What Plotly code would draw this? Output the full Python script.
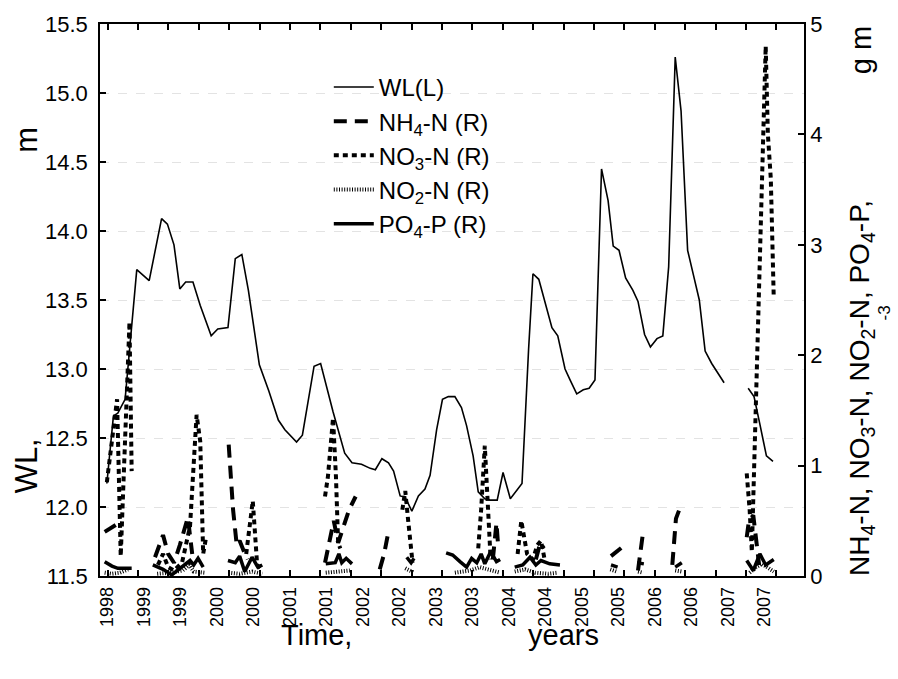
import plotly.graph_objects as go

# ---- Water level, left axis (m); None marks a break in the record ----
wl_time = [1998.39, 1998.48, 1998.54, 1998.64, 1998.80, 1998.97, 1999.14, 1999.22, 1999.31, 1999.39,
           1999.47, 1999.57, 1999.67, 1999.82, 1999.91, 2000.05, 2000.15, 2000.24, 2000.33, 2000.48,
           2000.61, 2000.74, 2000.83, 2000.99, 2001.07, 2001.23, 2001.32, 2001.49, 2001.65, 2001.75,
           2001.88, 2002.00, 2002.07, 2002.16, 2002.25, 2002.32, 2002.41, 2002.48, 2002.57, 2002.66,
           2002.75, 2002.82, 2002.91, 2002.99, 2003.07, 2003.16, 2003.25, 2003.32, 2003.41, 2003.48,
           2003.57, 2003.64, 2003.74, 2003.82, 2003.92, 2004.08, 2004.17, 2004.23, 2004.31, 2004.41,
           2004.49, 2004.57, 2004.67, 2004.74, 2004.83, 2004.92, 2005.00, 2005.08, 2005.17, 2005.26,
           2005.33, 2005.41, 2005.50, 2005.60, 2005.67, 2005.76, 2005.84, 2005.93, 2006.01, 2006.09,
           2006.18, 2006.26, 2006.35, 2006.43, 2006.51, 2006.59, 2006.68, 2006.85, None,
           2007.18, 2007.26, 2007.34, 2007.43, 2007.52]
wl_level = [12.17, 12.66, 12.68, 12.78, 13.72, 13.64, 14.09, 14.05, 13.90, 13.58,
            13.63, 13.63, 13.46, 13.24, 13.29, 13.30, 13.80, 13.83, 13.57, 13.03,
            12.84, 12.63, 12.56, 12.47, 12.52, 13.02, 13.04, 12.69, 12.39, 12.32,
            12.31, 12.28, 12.27, 12.35, 12.32, 12.26, 12.08, 12.07, 11.97, 12.08,
            12.13, 12.23, 12.56, 12.78, 12.80, 12.80, 12.72, 12.59, 12.37, 12.11,
            12.06, 12.05, 12.05, 12.25, 12.06, 12.17, 13.14, 13.69, 13.65, 13.46,
            13.30, 13.24, 13.00, 12.92, 12.82, 12.85, 12.86, 12.92, 14.45, 14.22,
            13.89, 13.86, 13.66, 13.57, 13.49, 13.25, 13.16, 13.22, 13.24, 13.74,
            15.26, 14.87, 13.86, 13.68, 13.50, 13.13, 13.04, 12.90, None,
            12.86, 12.80, 12.60, 12.37, 12.33]

# ---- Nutrients, right axis (g m-3) ----
nh4_time = [1998.36, 1998.45, 1998.53, None,
            1999.05, 1999.16, 1999.23, 1999.31, 1999.39, 1999.50, 1999.56, None,
            2000.06, 2000.12, 2000.17, 2000.21, 2000.27, 2000.32, None,
            2001.38, 2001.45, 2001.50, 2001.56, 2001.63, 2001.71, 2001.80, None,
            2002.13, 2002.19, 2002.24, None,
            2003.68, 2003.73, 2003.75, None,
            2004.27, 2004.33, 2004.38, None,
            2005.30, 2005.38, 2005.47, None,
            2005.67, 2005.71, 2005.74, None,
            2006.14, 2006.19, 2006.27, None,
            2007.16, 2007.19, 2007.25, 2007.29, 2007.33]
nh4_conc = [0.40, 0.44, 0.47, None,
            0.17, 0.37, 0.20, 0.12, 0.28, 0.53, 0.20, None,
            1.19, 0.60, 0.28, 0.32, 0.22, 0.15, None,
            0.12, 0.32, 0.50, 0.30, 0.45, 0.60, 0.72, None,
            0.06, 0.20, 0.37, None,
            0.15, 0.48, 0.30, None,
            0.15, 0.30, 0.25, None,
            0.18, 0.22, 0.27, None,
            0.05, 0.25, 0.40, None,
            0.10, 0.52, 0.66, None,
            0.35, 0.50, 0.55, 0.30, 0.10]

no3_time = [1998.39, 1998.53, 1998.58, 1998.70, 1998.73, None,
            1999.09, 1999.16, 1999.23, 1999.31, 1999.42, 1999.53, 1999.62, 1999.67, 1999.71, 1999.75, None,
            2000.30, 2000.39, 2000.45, 2000.52, None,
            2001.38, 2001.42, 2001.49, 2001.53, 2001.56, 2001.59, None,
            2002.44, 2002.48, 2002.52, 2002.56, 2002.58, None,
            2003.48, 2003.52, 2003.57, 2003.61, 2003.63, 2003.65, None,
            2004.02, 2004.07, 2004.11, 2004.15, 2004.23, 2004.29, 2004.34, 2004.39, None,
            2007.16, 2007.20, 2007.23, 2007.42, 2007.45, 2007.49, 2007.53]
no3_conc = [0.85, 1.60, 0.18, 2.30, 0.95, None,
            0.10, 0.20, 0.08, 0.05, 0.12, 0.45, 1.46, 1.22, 0.20, 0.35, None,
            0.20, 0.68, 0.10, 0.05, None,
            0.72, 0.90, 1.43, 0.90, 0.30, 0.25, None,
            0.60, 0.77, 0.50, 0.20, 0.12, None,
            0.25, 0.60, 1.18, 0.70, 0.35, 0.15, None,
            0.20, 0.50, 0.35, 0.20, 0.15, 0.28, 0.32, 0.15, None,
            0.93, 0.60, 0.22, 4.80, 4.00, 3.60, 2.53]

no2_time = [1998.36, 1998.46, 1998.57, 1998.68, None,
            1999.08, 1999.26, 1999.43, 1999.52, 1999.58, 1999.73, None,
            2000.06, 2000.21, 2000.38, 2000.52, None,
            2001.39, 2001.59, 2001.72, None,
            2002.48, 2002.53, 2002.60, None,
            2003.16, 2003.37, 2003.50, 2003.61, 2003.78, None,
            2003.98, 2004.12, 2004.26, 2004.44, 2004.57, None,
            2005.29, 2005.38, None,
            2005.67, 2005.74, None,
            2006.18, 2006.27, None,
            2007.20, 2007.29, 2007.37, 2007.48, 2007.53]
no2_conc = [0.03, 0.02, 0.03, 0.06, None,
            0.02, 0.03, 0.05, 0.10, 0.04, 0.03, None,
            0.03, 0.02, 0.04, 0.02, None,
            0.03, 0.04, 0.05, None,
            0.07, 0.05, 0.03, None,
            0.03, 0.05, 0.08, 0.06, 0.03, None,
            0.04, 0.06, 0.03, 0.02, 0.03, None,
            0.06, 0.04, None,
            0.04, 0.03, None,
            0.05, 0.04, None,
            0.03, 0.08, 0.11, 0.06, 0.04]

po4_time = [1998.36, 1998.46, 1998.54, 1998.73, None,
            1999.02, 1999.16, 1999.28, 1999.41, 1999.53, 1999.58, 1999.64, 1999.71, None,
            2000.05, 2000.15, 2000.21, 2000.28, 2000.38, 2000.46, 2000.52, None,
            2001.39, 2001.52, 2001.57, 2001.61, 2001.67, 2001.75, None,
            2002.50, 2002.56, 2002.60, None,
            2003.04, 2003.13, 2003.23, 2003.32, 2003.39, 2003.46, 2003.52, 2003.57, 2003.65, 2003.73, 2003.78, None,
            2003.98, 2004.09, 2004.19, 2004.27, 2004.34, 2004.46, 2004.60, None,
            2005.30, 2005.39, None,
            2005.66, 2005.75, None,
            2006.18, 2006.27, None,
            2007.16, 2007.25, 2007.34, 2007.42, 2007.53]
po4_conc = [0.13, 0.09, 0.07, 0.07, None,
            0.10, 0.06, 0.01, 0.08, 0.14, 0.10, 0.16, 0.08, None,
            0.14, 0.12, 0.18, 0.04, 0.17, 0.08, 0.10, None,
            0.11, 0.12, 0.20, 0.12, 0.16, 0.11, None,
            0.17, 0.12, 0.16, None,
            0.21, 0.19, 0.13, 0.08, 0.16, 0.12, 0.20, 0.11, 0.22, 0.13, 0.15, None,
            0.08, 0.10, 0.17, 0.10, 0.14, 0.11, 0.10, None,
            0.10, 0.08, None,
            0.12, 0.11, None,
            0.08, 0.12, None,
            0.14, 0.05, 0.20, 0.10, 0.15]

# ---- Axis labelling ----
label_pos = [1998.4 + 0.5 * i for i in range(19)]
label_text = ["1998", "1999", "1999", "2000", "2000", "2001", "2001", "2002", "2002", "2003",
              "2003", "2004", "2004", "2005", "2005", "2006", "2006", "2007", "2007"]
# tick marks every five months (nudged so none sits exactly on a label position)
tick_marks = [1998.401 + 5 / 12 * k for k in range(23)]
x_range = [1998.296, 2007.945]

FONT = "Liberation Sans, Arial, sans-serif"
INK = "black"

fig = go.Figure()

fig.add_trace(go.Scatter(x=wl_time, y=wl_level, name="WL(L)", mode="lines",
                         line=dict(color=INK, width=1.6), legendgroup="a",
                         connectgaps=False, yaxis="y"))
fig.add_trace(go.Scatter(x=nh4_time, y=nh4_conc, name="NH<sub>4</sub>-N (R)", mode="lines",
                         line=dict(color=INK, width=4, dash="13px,8px"), legendgroup="b",
                         connectgaps=False, yaxis="y2"))
fig.add_trace(go.Scatter(x=no3_time, y=no3_conc, name="NO<sub>3</sub>-N (R)", mode="lines",
                         line=dict(color=INK, width=4, dash="5px,4px"), legendgroup="c",
                         connectgaps=False, yaxis="y2"))
fig.add_trace(go.Scatter(x=no2_time, y=no2_conc, name="NO<sub>2</sub>-N (R)", mode="lines",
                         line=dict(color=INK, width=4, dash="1px,1.6px"), legendgroup="d",
                         connectgaps=False, yaxis="y2"))
fig.add_trace(go.Scatter(x=po4_time, y=po4_conc, name="PO<sub>4</sub>-P (R)", mode="lines",
                         line=dict(color=INK, width=3.5), legendgroup="e",
                         connectgaps=False, yaxis="y2"))

fig.update_layout(
    width=898, height=679,
    margin=dict(l=100, r=94, t=17, b=103),
    paper_bgcolor="white", plot_bgcolor="white",
    font=dict(family=FONT, color=INK, size=18),
    showlegend=True,
    legend=dict(x=0.325, y=0.926, xanchor="left", yanchor="top",
                bgcolor="rgba(0,0,0,0)", font=dict(size=24, family=FONT),
                tracegroupgap=0, itemwidth=40),
    xaxis=dict(range=x_range, autorange=False, tickmode="array", tickvals=label_pos,
               ticktext=label_text, tickangle=-90, ticks="", tickfont=dict(size=18),
               ticklabelstandoff=2,
               minor=dict(tickmode="array", tickvals=tick_marks, ticks="inside",
                          ticklen=6, tickwidth=1.5, tickcolor=INK, showgrid=False),
               showline=True, linecolor=INK, linewidth=1.5, mirror="ticks",
               showgrid=False, zeroline=False),
    yaxis=dict(range=[11.5, 15.5], tickmode="array",
               tickvals=[11.5, 12.0, 12.5, 13.0, 13.5, 14.0, 14.5, 15.0, 15.5],
               tickformat=".1f", ticks="inside", ticklen=6, tickwidth=1.5, tickcolor=INK,
               tickfont=dict(size=22), ticklabelstandoff=6,
               showline=True, linecolor=INK, linewidth=1.5,
               showgrid=True, gridcolor="#e3e3e3", gridwidth=1, griddash="dash",
               zeroline=False),
    yaxis2=dict(range=[0, 5], overlaying="y", side="right", tickmode="array",
                tickvals=[0, 1, 2, 3, 4, 5], ticks="inside", ticklen=6, tickwidth=1.5,
                tickcolor=INK, tickfont=dict(size=22), showline=True, linecolor=INK,
                linewidth=1.5, showgrid=False, zeroline=False),
)

# Axis titles
def title(text, x, y, size, angle=0):
    fig.add_annotation(text=text, xref="paper", yref="paper", x=x, y=y,
                       xanchor="center", yanchor="middle", textangle=angle,
                       showarrow=False, font=dict(family=FONT, size=size, color=INK))

title("Time,", 0.307, -0.106, 29)
title("years", 0.658, -0.106, 29)
title("WL,", -0.104, 0.2, 31, -90)
title("m", -0.104, 0.79, 31, -90)
title("NH<sub>4</sub>-N, NO<sub>3</sub>-N, NO<sub>2</sub>-N, PO<sub>4</sub>-P,", 1.082, 0.34, 28, -90)
title("g m", 1.082, 0.952, 29, -90)
title("-3", 1.114, 0.476, 17, -90)

fig.write_html("out.html")
